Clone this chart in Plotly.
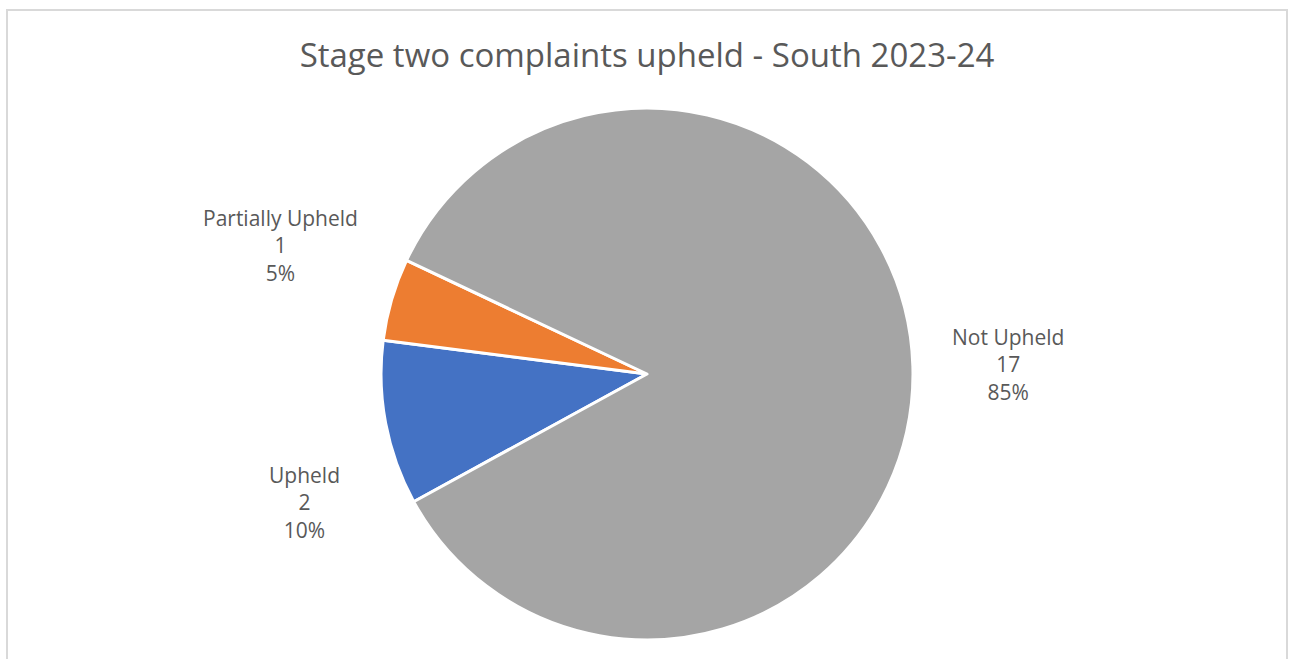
import plotly.graph_objects as go

# Data
categories = ["Upheld", "Partially Upheld", "Not Upheld"]
counts = [2, 1, 17]
colors = ["#4472C4", "#ED7D31", "#A5A5A5"]

total = sum(counts)
label_texts = [f"{c}<br>{v}<br>{round(100 * v / total)}%" for c, v in zip(categories, counts)]

# label positions (paper coordinates) - layout only
label_pos = [(0.2328, 0.2419), (0.2133, 0.6379), (0.782, 0.4545)]

fig = go.Figure()
fig.add_trace(go.Pie(
    labels=categories,
    values=counts,
    sort=False,
    direction="clockwise",
    rotation=241.3,
    marker=dict(colors=colors, line=dict(color="white", width=3)),
    textinfo="none",
    hoverinfo="label+value+percent",
    domain=dict(x=[0.2922, 0.7078], y=[0.0293, 0.849]),
    showlegend=False,
))

for txt, (x, y) in zip(label_texts, label_pos):
    fig.add_annotation(
        x=x, y=y, xref="paper", yref="paper",
        text=txt, showarrow=False, align="center",
        xanchor="center", yanchor="middle",
        font=dict(family="Open Sans", size=21, color="#595959"),
    )

fig.add_shape(type="rect", xref="paper", yref="paper",
              x0=0, x1=1, y0=-0.2, y1=1,
              line=dict(color="#D9D9D9", width=2), fillcolor="rgba(0,0,0,0)")

fig.update_layout(
    width=1292, height=659,
    margin=dict(l=7, r=5, t=10, b=0),
    paper_bgcolor="white",
    plot_bgcolor="white",
    title=dict(
        text="Stage two complaints upheld - South 2023-24",
        x=0.5008, xanchor="center",
        y=1 - 55 / 659, yanchor="middle", yref="container",
        font=dict(family="Open Sans", size=33, color="#595959"),
    ),
)

fig.write_html("out.html")
